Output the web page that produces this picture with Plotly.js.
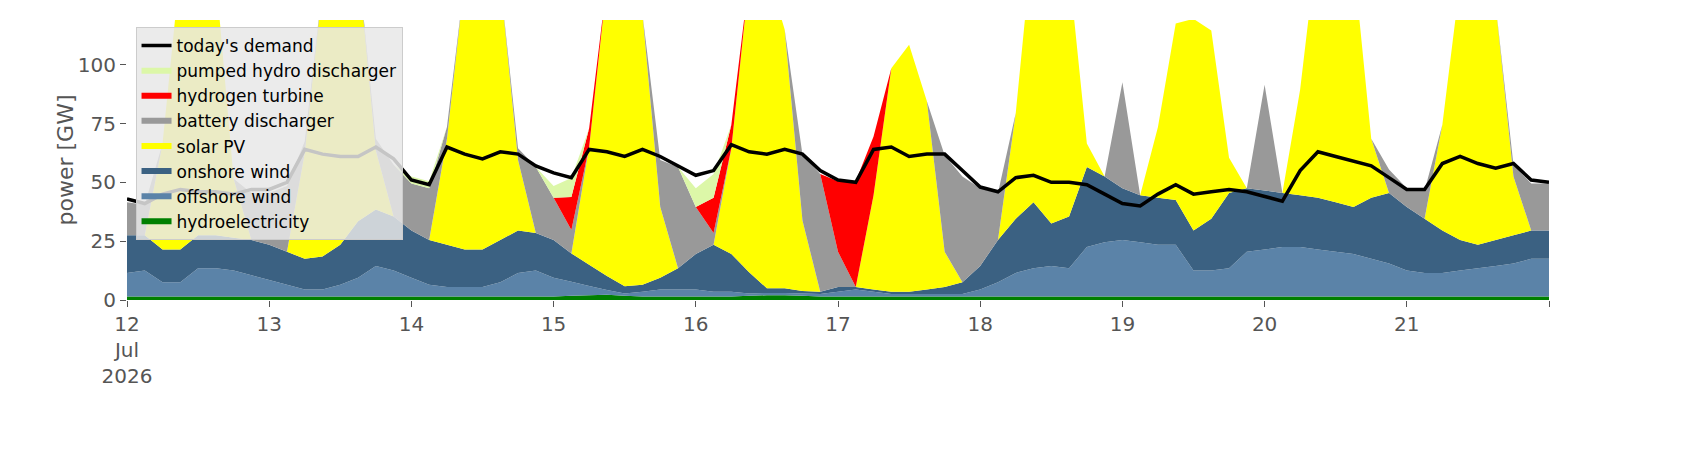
<!DOCTYPE html>
<html>
<head>
<meta charset="utf-8">
<script src="https://cdn.plot.ly/plotly-3.0.1.min.js"></script>
<style>body{margin:0;background:#fff}</style>
</head>
<body>
<div id="plot" style="width:1706px;height:460px"></div>
<script>
// 3-hourly values, 12 Jul 00:00 .. 22 Jul 00:00 (GW)
var hydro = [
  1.5,1.5,1.5,1.5,1.5,1.5,1.5,1.5, 1.5,1.5,1.5,1.5,1.5,1.5,1.5,1.5,
  1.5,1.5,1.5,1.5,1.5,1.5,1.5,1.5, 1.5,1.8,2,2.2,1.8,1.5,1.5,1.5,
  1.5,1.5,1.5,1.8,2,2,1.8,1.5, 1.5,1.5,1.5,1.5,1.5,1.5,1.5,1.5,
  1.5,1.5,1.5,1.5,1.5,1.5,1.5,1.5, 1.5,1.5,1.5,1.5,1.5,1.5,1.5,1.5,
  1.5,1.5,1.5,1.5,1.5,1.5,1.5,1.5, 1.5,1.5,1.5,1.5,1.5,1.5,1.5,1.5, 1.5];
var offshore = [
  10,11,6,6,12,12,11,9,  7,5,3,3,5,8,13,11,  8,5,4,4,4,6,10,11,
  8,6,4,2,1,2,3,3,  3,2,2,1,1,1,1,1,  2,3,2,1,1,1,1,1,
  3,6,10,12,13,12,21,23,  24,23,22,22,11,11,12,19,
  20,21,21,20,19,18,16,14,  11,10,10,11,12,13,14,16, 16];
var onshore = [
  16,15,14,14,14,14,14,15,  15,14,13,14,17,24,24,23,  20,19,18,16,16,18,18,16,
  16,12,9,6,3,3,5,9,  15,20,16,9,2,2,1,1,  2,1,1,1,1,2,3,5,
  10,18,23,28,18,22,34,28,  22,20,20,19,17,22,32,27,
  25,23,22,22,21,20,26,30,  27,23,18,13,10,11,12,12, 12];
var solar = [
  0,0,45,120,130,110,25,0,  0,0,45,115,130,110,25,0,  0,0,45,115,130,110,30,0,
  0,0,50,125,135,115,30,0,  0,0,45,125,135,110,30,0,  0,0,40,95,105,80,15,0,
  0,0,45,115,130,105,10,0,  0,0,30,75,90,80,15,0,
  0,0,45,110,125,105,25,0,  0,0,45,110,125,100,25,0, 0];
var battery = [
  14,13,0,0,0,0,0,20,  22,28,5,0,0,0,5,22,  20,22,5,0,0,0,5,28,
  18,10,0,0,0,0,20,43,  20,5,0,0,0,0,28,50,  15,0,0,0,0,0,41,45,
  33,20,0,0,0,0,0,0,  45,0,0,0,0,0,0,0,
  45,0,0,0,0,0,0,10,  8,12,0,0,0,0,5,20, 20];
var hydrogen = [
  0,0,0,0,0,0,0,0,  0,0,0,0,0,0,0,0,  0,0,0,0,0,0,0,0,
  0,14,8,0,0,0,0,0,  0,15,10,0,0,0,0,0,  30,45,25,0,0,0,0,0,
  0,0,0,0,0,0,0,0,  0,0,0,0,0,0,0,0,
  0,0,0,0,0,0,0,0,  0,0,0,0,0,0,0,0, 0];
var pumped = [
  0,0,0,0,0,0,0,0,  0,0,0,0,0,0,0,0,  3,3,0,0,0,0,0,0,
  5,8,0,0,0,0,0,0,  8,10,0,0,0,0,0,0,  0,0,0,0,0,0,0,0,
  0,0,0,0,0,0,0,0,  0,0,0,0,0,0,0,0,
  0,0,0,0,0,0,0,0,  0,0,0,0,0,0,0,0, 0];
var demand = [
  43,41,45,47,46,46,45,47,  47,50,64,62,61,61,65,60,  51,49,65,62,60,63,62,57,
  54,52,64,63,61,64,61,57,  53,55,66,63,62,64,62,55,  51,50,64,65,61,62,62,55,
  48,46,52,53,50,50,49,45,  41,40,45,49,45,46,47,46,
  44,42,55,63,61,59,57,52,  47,47,58,61,58,56,58,51, 50];
var dayVals = ['2026-07-12','2026-07-13','2026-07-14','2026-07-15','2026-07-16',
  '2026-07-17','2026-07-18','2026-07-19','2026-07-20','2026-07-21','2026-07-22'];
var dayText = ['12<br>Jul<br>2026','13','14','15','16','17','18','19','20','21',''];

var times = [];
var t0 = Date.UTC(2026, 6, 12);
for (var i = 0; i < demand.length; i++) {
  times.push(new Date(t0 + i * 3 * 3600 * 1000).toISOString().slice(0, 16).replace('T', ' '));
}

function area(name, y, color) {
  return {x: times, y: y, name: name, type: 'scatter', mode: 'none',
    stackgroup: 'gen', fillcolor: color, line: {width: 0}, hoverinfo: 'skip'};
}

var data = [
  area('hydroelectricity', hydro, '#008000'),
  area('offshore wind', offshore, '#5b83a8'),
  area('onshore wind', onshore, '#3b6182'),
  area('solar PV', solar, '#ffff00'),
  area('battery discharger', battery, '#999999'),
  area('hydrogen turbine', hydrogen, '#ff0000'),
  area('pumped hydro discharger', pumped, '#dcf7a8'),
  {x: times, y: demand, name: "today's demand", type: 'scatter', mode: 'lines',
    line: {color: '#000000', width: 3.5}}
];

var layout = {
  width: 1706, height: 460,
  margin: {l: 127, r: 157, t: 20, b: 160},
  paper_bgcolor: '#ffffff', plot_bgcolor: '#ffffff',
  font: {family: 'DejaVu Sans', color: '#555555', size: 20},
  showlegend: true,
  legend: {x: 0.006, y: 0.975, xanchor: 'left', yanchor: 'top', traceorder: 'reversed',
    bgcolor: 'rgba(232,232,232,0.85)', bordercolor: '#cccccc', borderwidth: 1,
    font: {size: 17, color: '#000000'}, tracegroupgap: 0},
  xaxis: {type: 'date', range: ['2026-07-12 00:00', '2026-07-22 00:00'],
    tickvals: dayVals, ticktext: dayText, ticks: 'outside', ticklen: 6,
    tickcolor: '#555555', showgrid: false, zeroline: false, showline: false,
    tickfont: {size: 20}},
  yaxis: {range: [0, 119], tickvals: [0, 25, 50, 75, 100], ticks: 'outside', ticklen: 6,
    tickcolor: '#555555', showgrid: false, zeroline: false, showline: false,
    title: {text: 'power [GW]', font: {size: 22}}, tickfont: {size: 20}}
};

Plotly.newPlot('plot', data, layout, {displayModeBar: false});
</script>
</body>
</html>
